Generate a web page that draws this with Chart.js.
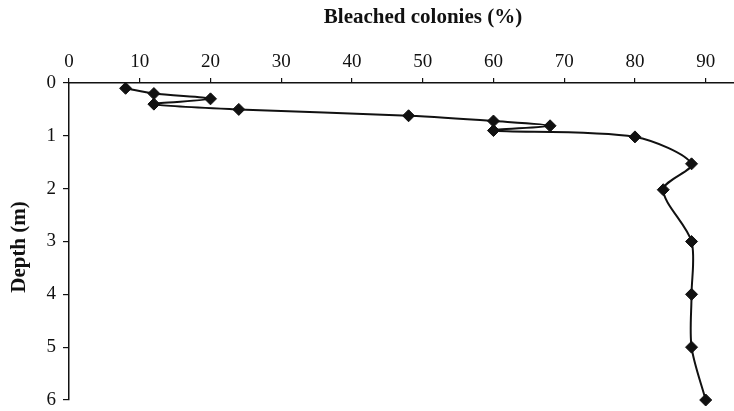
<!DOCTYPE html>
<html>
<head>
<meta charset="utf-8">
<script src="https://cdn.jsdelivr.net/npm/chart.js@4/dist/chart.umd.min.js"></script>
<style>
  html, body { margin: 0; padding: 0; background: #fff; }
</style>
</head>
<body>
<canvas id="depthChart" width="734" height="411"></canvas>
<script>
// Data
const bleachedPct = [8, 12, 20, 12, 24, 48, 60, 68, 60, 80, 88, 84, 88, 88, 88, 90];
const depthM = [0.1, 0.2, 0.3, 0.4, 0.5, 0.62, 0.72, 0.81, 0.9, 1.02, 1.53, 2.02, 3.0, 4.0, 5.0, 6.0];
const xTickValues = [0, 10, 20, 30, 40, 50, 60, 70, 80, 90];
const yTickValues = [0, 1, 2, 3, 4, 5, 6];
const xTitle = 'Bleached colonies (%)';
const yTitle = 'Depth (m)';

const ink = '#111';
const serif = "'Liberation Serif', 'Times New Roman', serif";

// axis titles sit a bit off the plot centre in the original, so place them by hand
const axisTitles = {
  id: 'axisTitles',
  afterDraw(chart) {
    const c = chart.ctx;
    c.save();
    c.font = `bold 21px ${serif}`;
    c.fillStyle = ink;
    c.textAlign = 'center';
    c.textBaseline = 'middle';
    c.fillText(xTitle, 423, 18);
    c.translate(20, 247);
    c.rotate(-Math.PI / 2);
    c.fillText(yTitle, 0, 0);
    c.restore();
  }
};

const points = bleachedPct.map((x, i) => ({ x, y: depthM[i] }));

new Chart(document.getElementById('depthChart'), {
  type: 'scatter',
  data: {
    datasets: [{
      data: points,
      showLine: true,
      borderColor: ink,
      borderWidth: 2,
      tension: 0.3,
      pointStyle: 'rectRot',
      pointRadius: 6,
      pointBackgroundColor: ink,
      pointBorderColor: ink,
      pointBorderWidth: 1,
      clip: false
    }]
  },
  options: {
    responsive: false,
    animation: false,
    layout: { autoPadding: false, padding: { top: 0, right: 0, left: 0, bottom: 11 } },
    plugins: {
      legend: { display: false },
      tooltip: { enabled: false }
    },
    scales: {
      x: {
        type: 'linear',
        position: 'top',
        min: 0,
        max: 94,
        afterBuildTicks: s => { s.ticks = xTickValues.map(v => ({ value: v })); },
        afterFit: s => { s.height = 83; s.paddingLeft = 0; s.paddingRight = 0; },
        grid: { drawOnChartArea: false, drawTicks: true, tickLength: 5, color: ink, lineWidth: 1.2 },
        border: { color: ink, width: 1.5 },
        ticks: { color: ink, font: { family: serif, size: 19 }, padding: 5, maxRotation: 0 }
      },
      y: {
        type: 'linear',
        reverse: true,
        min: 0,
        max: 6,
        afterBuildTicks: s => { s.ticks = yTickValues.map(v => ({ value: v })); },
        afterFit: s => { s.width = 69; s.paddingTop = 0; s.paddingBottom = 0; },
        grid: { drawOnChartArea: false, drawTicks: true, tickLength: 6, color: ink, lineWidth: 1.2 },
        border: { color: ink, width: 1.5 },
        ticks: { color: ink, font: { family: serif, size: 19 }, padding: 7 }
      }
    }
  },
  plugins: [axisTitles]
});
</script>
</body>
</html>
